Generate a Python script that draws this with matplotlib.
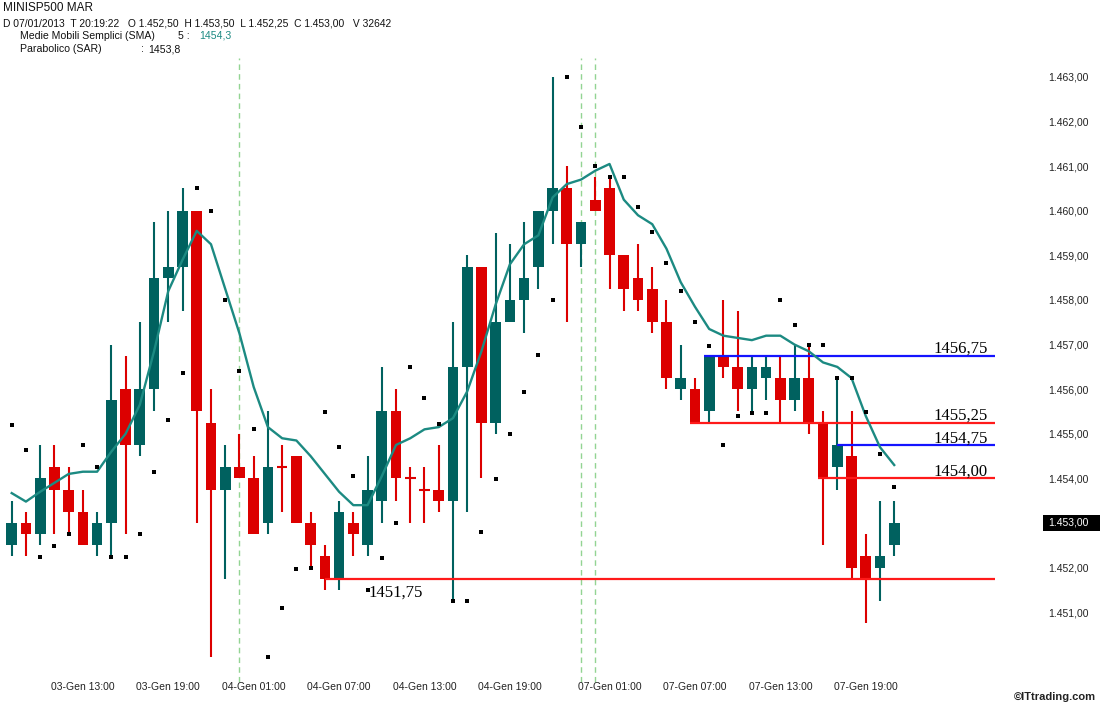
import matplotlib
matplotlib.use("Agg")
import matplotlib.pyplot as plt
import matplotlib.transforms as mtransforms
from matplotlib.patches import Rectangle
import numpy as np

# ---------------- data (hourly candles, MINISP500 MAR) ----------------
opens = [1452.5, 1453.0, 1452.75, 1454.25, 1453.75, 1453.25, 1452.5, 1453.0, 1456.0, 1454.75,
         1456.0, 1458.5, 1458.75, 1460.0, 1455.25, 1453.75, 1454.25, 1454.0, 1453.0, 1454.25,
         1454.5, 1453.0, 1452.25, 1451.75, 1453.0, 1452.5, 1453.5, 1455.5, 1454.0, 1453.75,
         1453.75, 1453.5, 1456.5, 1458.75, 1455.25, 1457.5, 1458.0, 1458.75, 1460.0, 1460.5,
         1459.25, 1460.25, 1460.5, 1459.0, 1458.5, 1458.25, 1457.5, 1456.0, 1456.0, 1455.5,
         1456.75, 1456.5, 1456.0, 1456.25, 1456.25, 1455.75, 1456.25, 1455.25, 1454.25, 1454.5,
         1452.25, 1452.0, 1452.5]
highs = [1453.5, 1453.25, 1454.75, 1454.75, 1454.25, 1453.75, 1453.25, 1457.0, 1456.75, 1457.5,
         1459.75, 1460.0, 1460.5, 1460.0, 1456.0, 1454.75, 1455.0, 1454.5, 1455.5, 1454.75,
         1454.5, 1453.25, 1452.5, 1453.5, 1453.25, 1454.5, 1456.5, 1456.0, 1454.25, 1454.25,
         1454.75, 1457.5, 1459.0, 1458.75, 1459.5, 1459.25, 1459.75, 1460.0, 1463.0, 1461.0,
         1459.75, 1460.75, 1460.75, 1459.0, 1459.25, 1458.75, 1458.0, 1457.0, 1456.25, 1456.75,
         1458.0, 1457.75, 1456.75, 1456.75, 1456.75, 1457.0, 1457.0, 1455.5, 1456.25, 1455.5,
         1452.75, 1453.5, 1453.5]
lows = [1452.25, 1452.25, 1452.5, 1452.75, 1452.75, 1452.5, 1452.25, 1452.25, 1452.75, 1454.5,
        1455.5, 1457.5, 1457.75, 1453.0, 1450.0, 1451.75, 1454.0, 1452.75, 1452.75, 1453.25,
        1453.0, 1452.0, 1451.5, 1451.5, 1452.25, 1452.25, 1453.0, 1453.5, 1453.0, 1453.0,
        1453.25, 1451.25, 1453.25, 1454.0, 1455.0, 1457.5, 1457.25, 1458.25, 1459.25, 1457.5,
        1458.75, 1460.0, 1458.25, 1457.75, 1457.75, 1457.25, 1456.0, 1455.75, 1455.25, 1455.25,
        1456.25, 1455.5, 1455.5, 1455.75, 1455.25, 1455.5, 1455.0, 1452.5, 1453.75, 1451.75,
        1450.75, 1451.25, 1452.25]
closes = [1453.0, 1452.75, 1454.0, 1453.75, 1453.25, 1452.5, 1453.0, 1455.75, 1454.75, 1456.0,
          1458.5, 1458.75, 1460.0, 1455.5, 1453.75, 1454.25, 1454.0, 1452.75, 1454.25, 1454.25,
          1453.0, 1452.5, 1451.75, 1453.25, 1452.75, 1453.75, 1455.5, 1454.0, 1454.0, 1453.75,
          1453.5, 1456.5, 1458.75, 1455.25, 1457.5, 1458.0, 1458.5, 1460.0, 1460.5, 1459.25,
          1459.75, 1460.0, 1459.0, 1458.25, 1458.0, 1457.5, 1456.25, 1456.25, 1455.25, 1456.75,
          1456.5, 1456.0, 1456.5, 1456.5, 1455.75, 1456.25, 1455.25, 1454.0, 1454.75, 1452.0,
          1451.75, 1452.25, 1453.0]
sma5 = [1453.67, 1453.48, 1453.7, 1453.9, 1454.1, 1454.15, 1454.15, 1454.6, 1455.0, 1455.65,
        1456.85, 1458.2, 1458.9, 1459.55, 1459.25, 1458.25, 1457.25, 1456.05, 1455.15, 1454.9,
        1454.85, 1454.5, 1454.1, 1453.7, 1453.4, 1453.4, 1454.05, 1454.75, 1454.9, 1455.1,
        1455.15, 1455.35, 1455.95, 1456.85, 1457.9, 1458.8, 1459.25, 1459.45, 1460.3, 1460.6,
        1460.7, 1460.9, 1461.05, 1460.25, 1459.9, 1459.7, 1459.15, 1458.4, 1457.85, 1457.35,
        1457.2, 1457.15, 1457.1, 1457.2, 1457.2, 1457.0, 1456.85, 1456.6, 1456.5, 1456.25,
        1455.4, 1454.7, 1454.3]
sar = [1455.2, 1454.63, 1452.23, 1452.49, 1452.75, 1454.74, 1454.26, 1452.23, 1452.23, 1452.75,
       1454.14, 1455.31, 1456.37, 1460.5, 1460.0, 1458.0, 1456.4, 1455.11, 1450.0, 1451.09,
       1451.97, 1451.98, 1455.48, 1454.7, 1454.05, 1451.5, 1452.22, 1453.01, 1456.5, 1455.8,
       1455.23, 1451.25, 1451.25, 1452.79, 1453.98, 1454.99, 1455.93, 1456.77, 1458.0, 1463.0,
       1461.89, 1461.01, 1460.75, 1460.75, 1460.09, 1459.52, 1458.82, 1458.2, 1457.5, 1456.97,
       1454.75, 1455.4, 1455.47, 1455.47, 1458.0, 1457.44, 1456.99, 1456.99, 1456.24, 1456.24,
       1455.48, 1454.54, 1453.8]

# user-drawn horizontal levels
level_values = [1456.75, 1455.25, 1454.75, 1454.00, 1451.75]
level_labels = ["1456,75", "1455,25", "1454,75", "1454,00", "1451,75"]
level_start = [48.63, 47.63, 57.95, 56.63, 22.0]
level_colors = ["#1414ff", "#ff1a1a", "#1414ff", "#ff1a1a", "#ff1a1a"]

# day separators (candle index)
day_sep = [16, 40, 41]

# axis labels
xtick_idx = [5, 11, 17, 23, 29, 35, 42, 48, 54, 60]
xtick_labels = ["03-Gen 13:00", "03-Gen 19:00", "04-Gen 01:00", "04-Gen 07:00", "04-Gen 13:00",
                "04-Gen 19:00", "07-Gen 01:00", "07-Gen 07:00", "07-Gen 13:00", "07-Gen 19:00"]
ytick_vals = [1451, 1452, 1454, 1455, 1456, 1457, 1458, 1459, 1460, 1461, 1462, 1463]
ytick_labels = ["1.451,00", "1.452,00", "1.454,00", "1.455,00", "1.456,00", "1.457,00",
                "1.458,00", "1.459,00", "1.460,00", "1.461,00", "1.462,00", "1.463,00"]
last_price = 1453.0
last_label = "1.453,00"

# ---------------- drawing ----------------
UP = "#00615f"
DOWN = "#dc0000"
SMA_C = "#1c8a82"

W, H = 1100, 705
fig = plt.figure(figsize=(W / 100, H / 100), dpi=100)
fig.patch.set_facecolor("white")
ax = fig.add_axes([0, 35 / H, 1035 / W, 612 / H])
for s in ax.spines.values():
    s.set_visible(False)

O = np.array(opens); Hh = np.array(highs); L = np.array(lows); C = np.array(closes)
n = len(O)
x = np.arange(n)
up = C > O
doji = C == O
cols = np.where(up, UP, DOWN)

for i in day_sep:
    ax.axvline(i, color="#93d493", lw=1.0, ls=(0, (4, 3)), ymin=-0.02, ymax=1.0,
               clip_on=False, zorder=0)

ax.vlines(x, L, Hh, colors=cols, lw=1.5, zorder=2)
body_lo = np.minimum(O, C)
body_h = np.abs(C - O)
ax.bar(x, body_h, bottom=body_lo, width=0.75, color=cols, linewidth=0, zorder=2.5)
ax.hlines(C[doji], x[doji] - 0.375, x[doji] + 0.375, colors=DOWN, lw=1.5, zorder=2.5)

x_end = 69.1
for lv, st, cl in zip(level_values, level_start, level_colors):
    ax.hlines(lv, st, x_end, colors=cl, lw=1.6, zorder=3)

ax.plot(x, sma5, color=SMA_C, lw=1.7, zorder=4)
ax.plot(x, sar, "s", color="black", ms=2.7, mew=0, zorder=5)

for lv, lb in zip(level_values[:4], level_labels[:4]):
    ax.text(68.55, lv + 0.06, lb, ha="right", va="baseline",
            fontfamily="Liberation Serif", fontsize=12, color="black", zorder=6)
ax.text(25.1, level_values[4] - 0.39, level_labels[4], ha="left", va="baseline",
        fontfamily="Liberation Serif", fontsize=12, color="black", zorder=6)

ax.set_xlim(-0.822, 71.89)
ax.set_ylim(1449.704, 1463.426)

ax.set_xticks(xtick_idx)
ax.set_xticklabels(xtick_labels, fontfamily="Liberation Sans", fontsize=7.5, color="#222222")
ax.tick_params(axis="x", length=0, pad=9)
ax.yaxis.tick_right()
ax.set_yticks(ytick_vals)
ax.set_yticklabels(ytick_labels, fontfamily="Liberation Sans", fontsize=7.5, color="#222222")
ax.tick_params(axis="y", length=0, pad=9.4)

# current price box
trans = mtransforms.blended_transform_factory(fig.transFigure, ax.transData)
ax.add_patch(Rectangle((1043 / W, last_price - 0.18), (W - 1043) / W, 0.36, transform=trans,
                       facecolor="black", edgecolor="none", clip_on=False, zorder=6))
ax.text(1048 / W, last_price, last_label, transform=trans, ha="left", va="center",
        fontfamily="Liberation Sans", fontsize=7.5, color="white", zorder=7, clip_on=False)

# header
def ftext(px, py, s, **kw):
    fig.text(px / W, 1 - py / H, s, va="center", ha=kw.pop("ha", "left"),
             fontfamily=kw.pop("family", "Liberation Sans"), **kw)

ftext(3, 8, "MINISP500 MAR", fontsize=8.5, color="#111111")
ftext(3, 24, "D 07/01/2013  T 20:19:22   O 1.452,50  H 1.453,50  L 1.452,25  C 1.453,00   V 32642",
      fontsize=7.4, color="#111111")
ftext(20, 36, "Medie Mobili Semplici (SMA)", fontsize=7.6, color="#111111")
ftext(178, 36, "5 :", fontsize=7.6, color="#111111")
ftext(199, 36, "1454,3", fontsize=7.6, color=SMA_C)
ftext(20, 49, "Parabolico (SAR)", fontsize=7.6, color="#111111")
ftext(141, 49, ":", fontsize=7.6, color="#111111")
ftext(148, 49, "1453,8", fontsize=7.6, color="#111111")

ftext(1096, 697, "\u00a9ITtrading.com", ha="right", fontsize=8, fontweight="bold", color="#222222")

fig.savefig("out.png", dpi=100, facecolor="white")
